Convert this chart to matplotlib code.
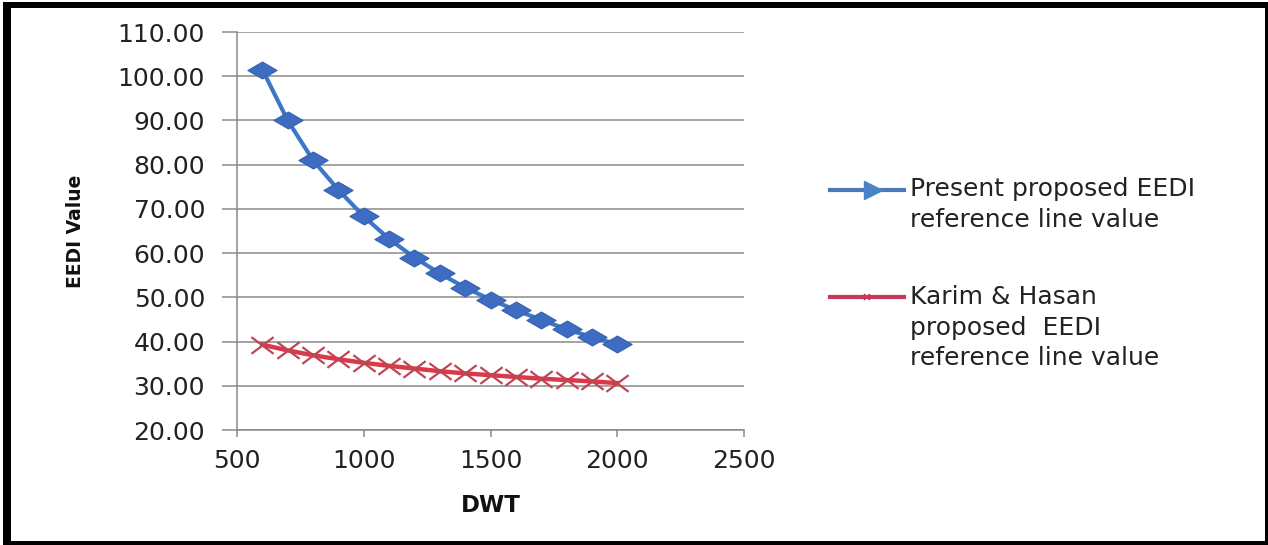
import matplotlib
matplotlib.use("Agg")
import matplotlib.pyplot as plt
from matplotlib.path import Path
from matplotlib.lines import Line2D
from matplotlib.patches import Rectangle

plt.rcParams["font.family"] = ["DejaVu Sans"]

# DWT values and EEDI reference line values
dwt = [600, 700, 800, 900, 1000, 1100, 1200, 1300, 1400, 1500,
       1600, 1700, 1800, 1900, 2000]
present_eedi = [101.5, 90.0, 81.0, 74.3, 68.3, 63.2, 59.0, 55.4, 52.2, 49.5,
                47.1, 44.9, 42.8, 41.0, 39.4]
karim_hasan_eedi = [39.3, 38.0, 36.9, 36.0, 35.2, 34.5, 33.9, 33.3, 32.8, 32.4,
                    32.0, 31.6, 31.3, 31.0, 30.6]

series_labels = ["Present proposed EEDI\nreference line value",
                 "Karim & Hasan\nproposed  EEDI\nreference line value"]
y_ticks = [20, 30, 40, 50, 60, 70, 80, 90, 100, 110]
x_ticks = [500, 1000, 1500, 2000, 2500]

W, H = 1268, 545
fig = plt.figure(figsize=(W / 100, H / 100), dpi=100)
fig.patch.set_facecolor("white")

ax = fig.add_axes([237 / W, 1 - 430 / H, (744 - 237) / W, (430 - 32) / H])

# wide, flat diamond and flat cross markers
diamond = Path([(-1, 0), (0, 0.58), (1, 0), (0, -0.58), (-1, 0)],
               [Path.MOVETO, Path.LINETO, Path.LINETO, Path.LINETO, Path.CLOSEPOLY])
cross = Path([(-1, -0.75), (1, 0.75), (-1, 0.75), (1, -0.75)],
             [Path.MOVETO, Path.LINETO, Path.MOVETO, Path.LINETO])

blue_line = "#3c78c8"
blue_mark = "#3d6cc2"
red_line = "#d8394b"
red_mark = "#c04552"

ax.plot(dwt, present_eedi, color=blue_line, lw=3.0, marker=diamond,
        markersize=21, markerfacecolor=blue_mark, markeredgecolor="#3462ad",
        markeredgewidth=0.8, zorder=4)
ax.plot(dwt, karim_hasan_eedi, color=red_line, lw=3.2, marker=cross,
        markersize=16, markerfacecolor="none", markeredgecolor=red_mark,
        markeredgewidth=1.6, zorder=3)

ax.set_xlim(500, 2500)
ax.set_ylim(20, 110)
ax.set_xticks(x_ticks)
ax.set_yticks(y_ticks)
ax.set_yticklabels([f"{v:.2f}" for v in y_ticks])
ax.grid(axis="y", color="#8a8a8a", lw=1.1)
ax.set_axisbelow(True)
for s in ("top", "right"):
    ax.spines[s].set_visible(False)
for s in ("left", "bottom"):
    ax.spines[s].set_color("#8a8a8a")
    ax.spines[s].set_linewidth(1.1)
ax.tick_params(axis="y", direction="out", length=11, width=1.1, color="#8a8a8a",
               pad=12, labelsize=18, labelcolor="#222222")
ax.tick_params(axis="x", direction="out", length=5, width=1.1, color="#8a8a8a",
               pad=9, labelsize=18, labelcolor="#222222")

ax.set_xlabel("DWT", fontsize=16.5, fontweight="bold", color="#111111")
ax.xaxis.set_label_coords(0.5, -0.16)
ax.set_ylabel("EEDI Value", fontsize=13.5, fontweight="bold", color="#111111")
ax.yaxis.set_label_coords(-0.30, 0.5)

# legend drawn at fixed positions beside the plot
def fx(px):
    return px / W

def fy(py):
    return 1 - py / H

fig.add_artist(Line2D([fx(830), fx(904)], [fy(190), fy(190)], color="#4a7ab8",
                      lw=3.0, transform=fig.transFigure))
fig.add_artist(Line2D([fx(873)], [fy(190)], marker=">", markersize=13,
                      color="#4a82c8", transform=fig.transFigure))
fig.add_artist(Line2D([fx(830), fx(904)], [fy(297), fy(297)], color="#c8385a",
                      lw=3.0, transform=fig.transFigure))
fig.add_artist(Line2D([fx(867)], [fy(297)], marker="x", markersize=5,
                      markeredgewidth=1.2, color="#c8385a",
                      transform=fig.transFigure))

fig.text(fx(910), fy(177), series_labels[0], fontsize=18, color="#222222",
         va="top", ha="left", linespacing=1.35)
fig.text(fx(910), fy(285), series_labels[1], fontsize=18, color="#222222",
         va="top", ha="left", linespacing=1.35)

# outer frame
frame_color = "black"
for (x0, y0, w, h) in [(3, 2, 8, 543), (3, 2, 1265, 6), (1265, 2, 3, 543),
                       (3, 541, 1265, 4)]:
    fig.add_artist(Rectangle((fx(x0), fy(y0 + h)), w / W, h / H,
                             transform=fig.transFigure, color=frame_color, lw=0))

fig.savefig("out.png", dpi=100, facecolor="white")
